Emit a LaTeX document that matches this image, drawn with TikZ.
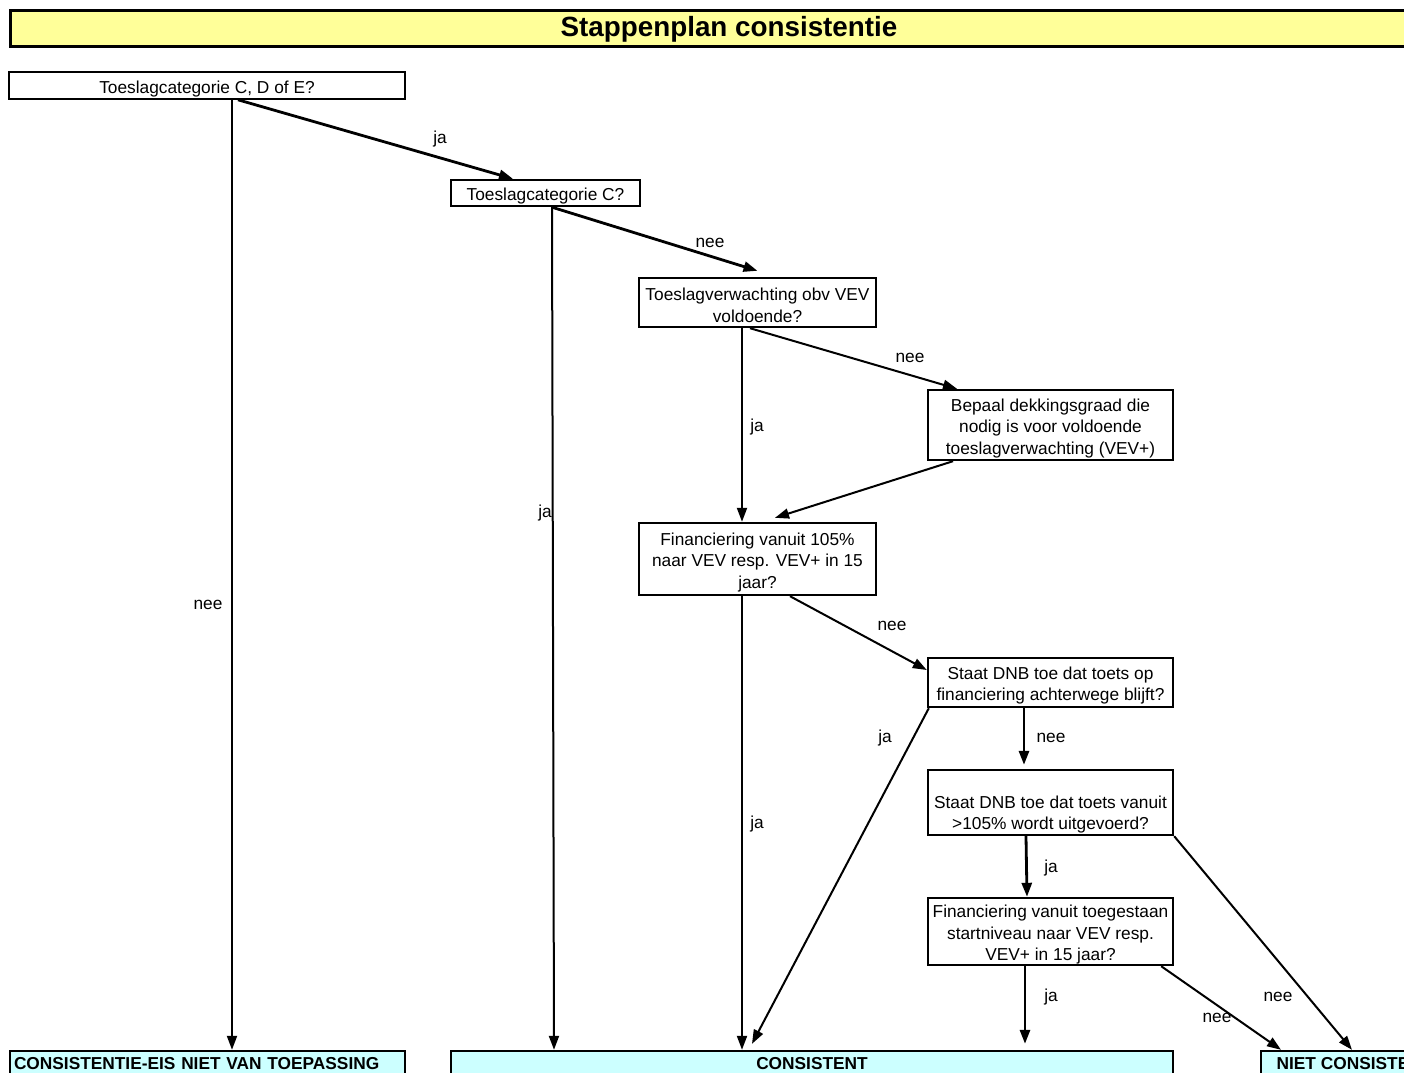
\documentclass[tikz,border=0pt]{standalone}
\usepackage{fontspec}
\setmainfont{Liberation Sans}
\usetikzlibrary{arrows.meta}

\definecolor{titelgeel}{HTML}{FFFF99}
\definecolor{uitkomstblauw}{HTML}{CCFFFF}
\newcommand{\opstap}[1][9.3pt]{\rule{0pt}{#1}}

\begin{document}
\begin{tikzpicture}[x=0.5pt, y=-0.5pt,
		every node/.style={font=\fontsize{8.65}{10.75}\selectfont, inner sep=0pt},
		vraag/.style={draw, line width=1.2pt, fill=white, align=center},
		uitkomst/.style={draw, line width=1.2pt, fill=uitkomstblauw, font=\fontsize{8.65}{10.75}\selectfont\bfseries},
		pijl/.style={line width=1pt, -{Triangle[length=7pt, width=5pt]}},
		antw/.style={}]
		\useasboundingbox (0,0) rectangle (1404,1072);
		\clip (0,0) rectangle (1404,1072);

		\node at (715,28) (titel) [draw, line width=1.5pt, fill=titelgeel, minimum width=705pt, minimum height=18pt] {};
		\node at (729,29) (titeltekst) [font=\fontsize{13.9}{16}\selectfont\bfseries] {Stappenplan consistentie};

		\node at (207,85.5) (catcde) [vraag, line width=0.8pt, minimum width=198pt, minimum height=13.5pt] {\opstap Toeslagcategorie C, D of E?};
		\node at (545.5,193) (catc) [vraag, minimum width=94.5pt, minimum height=13pt] {\opstap Toeslagcategorie C?};
		\node at (757.5,302.5) (vev) [vraag, minimum width=118.5pt, minimum height=24.5pt] {\opstap Toeslagverwachting obv VEV\\voldoende?};
		\node at (1050.5,425) (bepaal) [vraag, minimum width=122.5pt, minimum height=35pt] {\opstap Bepaal dekkingsgraad die\\nodig is voor voldoende\\toeslagverwachting (VEV+)};
		\node at (757.5,559) (fin105) [vraag, minimum width=118.5pt, minimum height=36pt] {\opstap Financiering vanuit 105\%\\naar VEV resp. VEV+ in 15\\jaar?};
		\node at (1050.5,682.5) (dnbtoets) [vraag, minimum width=122.5pt, minimum height=24.5pt] {\opstap Staat DNB toe dat toets op\\financiering achterwege blijft?};
		\node at (1050.5,802.5) (dnbvanuit) [vraag, minimum width=122.5pt, minimum height=32.5pt] {\opstap[7.5pt]\\Staat DNB toe dat toets vanuit\\>105\% wordt uitgevoerd?};
		\node at (1050.5,931.5) (finstart) [vraag, minimum width=122.5pt, minimum height=33.5pt] {\opstap Financiering vanuit toegestaan\\startniveau naar VEV resp.\\VEV+ in 15 jaar?};

		\node at (207.5,1063.5) (nvt) [uitkomst, text width=193.5pt, inner xsep=2pt, align=left, minimum height=12.5pt] {CONSISTENTIE-EIS NIET VAN TOEPASSING};
		\node at (812,1063.5) (cons) [uitkomst, minimum width=361pt, minimum height=12.5pt] {CONSISTENT};
		\node at (1354.5,1063.5) (nietcons) [uitkomst, minimum width=93.5pt, minimum height=12.5pt] {NIET CONSISTENT};

		\draw [pijl, line width=1.4pt] ([xshift=15.5pt]catcde.south) -- ([xshift=-16.25pt]catc.north);
		\draw [pijl] ([xshift=12.5pt]catcde.south) -- ([xshift=12.5pt]catcde.south |- nvt.north);
		\draw [pijl, line width=1.4pt] ([xshift=3.25pt]catc.south) -- ([yshift=3pt]vev.north);
		\draw [pijl] ([xshift=3.25pt]catc.south) -- ([xshift=-129pt]cons.north);
		\draw [pijl] ([xshift=-7.75pt]vev.south) -- ([xshift=-7.75pt]fin105.north);
		\draw [pijl] ([xshift=-3.75pt]vev.south) -- ([xshift=-46.75pt]bepaal.north);
		\draw [pijl] ([xshift=-48.75pt]bepaal.south) -- ([xshift=8.75pt, yshift=2pt]fin105.north);
		\draw [pijl] ([xshift=16.25pt]fin105.south) -- ([yshift=6.25pt]dnbtoets.west);
		\draw [pijl] ([xshift=-7.75pt]fin105.south) -- ([xshift=-7.75pt]fin105.south |- cons.north);
		\draw [pijl] ([xshift=1pt]dnbtoets.south west) -- ([xshift=-30pt, yshift=3pt]cons.north);
		\draw [pijl, line width=1.4pt] ([xshift=-13.25pt]dnbtoets.south) -- ([xshift=-13.25pt, yshift=2pt]dnbvanuit.north);
		\draw [pijl, line width=1.4pt] ([xshift=-12.25pt]dnbvanuit.south) -- ([xshift=-11.75pt]finstart.north);
		\draw [pijl] (dnbvanuit.south east) -- ([xshift=-1.25pt]nietcons.north);
		\draw [pijl, line width=1.4pt] ([xshift=-12.75pt]finstart.south) -- ([xshift=-12.75pt, yshift=3pt]finstart.south |- cons.north);
		\draw [pijl] ([xshift=-6.5pt]finstart.south east) -- ([xshift=-36.75pt]nietcons.north);

		\node at (440,139) (ja1) [antw] {ja};
		\node at (208,605) (nee1) [antw] {nee};
		\node at (710,243) (nee2) [antw] {nee};
		\node at (545,513) (ja2) [antw] {ja};
		\node at (757,427) (ja3) [antw] {ja};
		\node at (910,358) (nee3) [antw] {nee};
		\node at (892,626) (nee4) [antw] {nee};
		\node at (757,824) (ja4) [antw] {ja};
		\node at (885,738) (ja5) [antw] {ja};
		\node at (1051,738) (nee5) [antw] {nee};
		\node at (1051,868) (ja6) [antw] {ja};
		\node at (1278,997) (nee6) [antw] {nee};
		\node at (1051,997) (ja7) [antw] {ja};
		\node at (1217,1018) (nee7) [antw] {nee};
	\end{tikzpicture}
\end{document}
